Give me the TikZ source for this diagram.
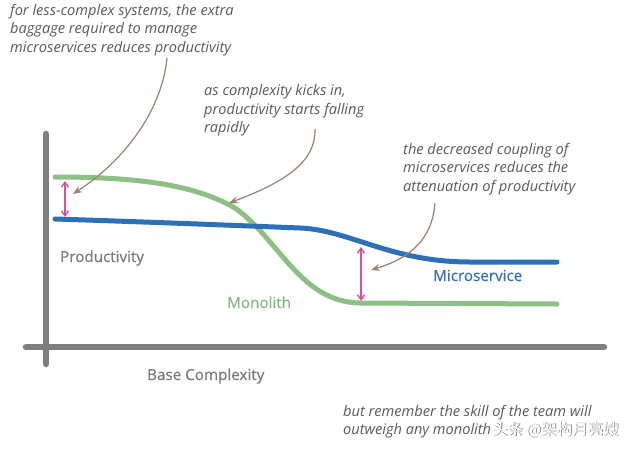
\documentclass[tikz,border=0pt]{standalone}
\usepackage{fontspec}
\setmainfont{Open Sans}
\newfontfamily\notefont{Open Sans}
\newfontfamily\labelfont[FakeBold=0.5]{Open Sans}
\newfontfamily\cjkfont{Noto Sans CJK SC}
\usetikzlibrary{arrows.meta}
\definecolor{axisgray}{HTML}{7F7F7F}
\definecolor{notegray}{HTML}{5A5A5A}
\definecolor{labgray}{HTML}{7A7A7A}
\definecolor{mono}{HTML}{8CC084}
\definecolor{monotext}{HTML}{86B97E}
\definecolor{micro}{HTML}{2C70B8}
\definecolor{microtext}{HTML}{3470B4}
\definecolor{gap}{HTML}{E0509A}
\definecolor{pointer}{HTML}{9E7E6E}
\tikzset{
  note/.style={anchor=north west, inner sep=0pt, align=left, text=notegray,
    font=\notefont\fontsize{14.6}{18.5}\selectfont\itshape},
  axislabel/.style={anchor=base west, inner sep=0pt, font=\labelfont\fontsize{15.2}{17}\selectfont},
  axisline/.style={draw=axisgray, line width=6.5pt, line cap=round},
  curve/.style={line width=5pt, line cap=round},
  gaparrow/.style={draw=gap, line width=1.4pt, {Straight Barb[length=5pt,width=7pt]}-{Straight Barb[length=5pt,width=7pt]}},
  pointarrow/.style={draw=pointer, line width=1.2pt, -{Stealth[length=9pt,width=7pt]}}
}
\begin{document}
\begin{tikzpicture}[x=1pt,y=-1pt]
\useasboundingbox[fill=white] (0,0) rectangle (640,448);
% axes
\draw[axisline] (46,134) -- (46,364);
\draw[axisline] (26,347) -- (604,347);
% curves
\draw[curve, draw=mono] (55,177) .. controls (140,177) and (195,185) .. (235,208)
  .. controls (280,240) and (300,302) .. (360,303) -- (557,304);
\draw[curve, draw=micro] (55,219) .. controls (150,222) and (250,226) .. (300,228)
  .. controls (350,230) and (390,262) .. (470,262) -- (557,262);
% gap arrows
\coordinate (g1a) at (65,181);
\coordinate (g1b) at (65,217);
\coordinate (g2a) at (361,247);
\coordinate (g2b) at (361,301);
\draw[gaparrow] (g1a) -- (g1b);
\draw[gaparrow] (g2a) -- (g2b);
% notes
\node[note] (n1) at (10,3.8) {for less-complex systems, the extra\\baggage required to manage\\microservices reduces productivity};
\node[note] (n2) at (204,84.6) {as complexity kicks in,\\productivity starts falling\\rapidly};
\node[note] (n3) at (403,143) {the decreased coupling of\\microservices reduces the\\attenuation of productivity};
\node[note] (n4) at (343,405) {but remember the skill of the team will\\outweigh any monolith};
% pointer arrows
\coordinate (p1s) at (167,58);
\coordinate (p1e) at (73,194);
\coordinate (p2s) at (315,129);
\coordinate (p2e) at (229,203);
\coordinate (p3s) at (435,203);
\coordinate (p3e) at (371,270);
\draw[pointarrow] (p1s) .. controls (162,110) and (125,160) .. (p1e);
\draw[pointarrow] (p2s) .. controls (316,162) and (285,182) .. (p2e);
\draw[pointarrow] (p3s) .. controls (432,240) and (410,258) .. (p3e);
% labels
\node[axislabel, text=labgray] (prod) at (60,262) {Productivity};
\node[axislabel, text=monotext] (monolab) at (227,308) {Monolith};
\node[axislabel, text=microtext] (microlab) at (433,281) {Microservice};
\node[axislabel, text=labgray] (base) at (147,380) {Base Complexity};
% watermark
\node[anchor=base west, inner sep=0pt, text=black!55, font=\cjkfont\fontsize{15.5}{17}\selectfont] (wms) at (492.8,435.8) {头条 @架构月亮嫂};
\node[anchor=base west, inner sep=0pt, text=white, font=\cjkfont\fontsize{15.5}{17}\selectfont] (wm) at (492,435) {头条 @架构月亮嫂};
\end{tikzpicture}
\end{document}
